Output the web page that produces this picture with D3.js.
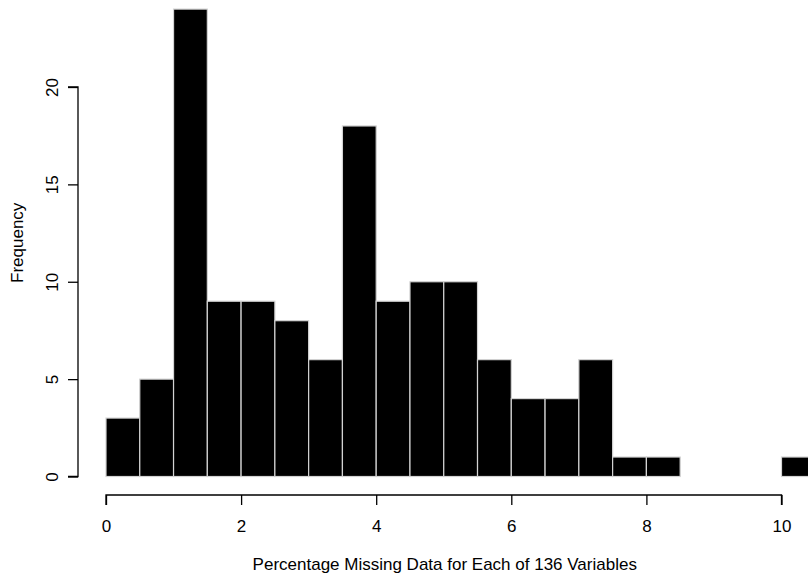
<!DOCTYPE html>
<html><head><meta charset="utf-8">
<script src="https://cdn.jsdelivr.net/npm/d3@7"></script>
<style>body{margin:0;background:#fff}svg{display:block}text{font-family:"Liberation Sans",Arial,sans-serif;fill:#000}</style>
</head><body>
<svg id="c" width="808" height="575"></svg>
<script>
const binStarts = [0,0.5,1,1.5,2,2.5,3,3.5,4,4.5,5,5.5,6,6.5,7,7.5,8,8.5,9,9.5,10];
const counts    = [3,5,24,9,9,8,6,18,9,10,10,6,4,4,6,1,1,0,0,0,1];
const binWidth = 0.5;
const xTicks = [0,2,4,6,8,10];
const yTicks = [0,5,10,15,20];
const xTitle = "Percentage Missing Data for Each of 136 Variables";
const yTitle = "Frequency";

const svg = d3.select("#c");
const x = d3.scaleLinear().domain([0,10]).range([106,781.5]);
const y = d3.scaleLinear().domain([0,20]).range([476.5,87]);

svg.append("g").selectAll("rect").data(binStarts).join("rect")
  .attr("x", d=>x(d)).attr("width", d=>x(d+binWidth)-x(d))
  .attr("y", (d,i)=>y(counts[i])).attr("height",(d,i)=>y(0)-y(counts[i]))
  .attr("fill","#000").attr("stroke","#d3d3d3").attr("stroke-width",1.2);

const fs = "17px";
const xa = svg.append("g").attr("transform","translate(0,495)")
  .call(d3.axisBottom(x).tickValues(xTicks).tickSize(10).tickPadding(15).tickFormat(d3.format("d")));
const ya = svg.append("g").attr("transform","translate(78,0)")
  .call(d3.axisLeft(y).tickValues(yTicks).tickSize(10).tickFormat(d3.format("d")));
[xa,ya].forEach(a=>{a.select(".domain").attr("stroke","#000").attr("stroke-width",1.3);a.selectAll(".tick line").attr("stroke","#000").attr("stroke-width",1.3);a.selectAll("text").style("font-size",fs).attr("font-family","Liberation Sans, Arial, sans-serif");});
xa.select(".domain").attr("d",`M${x(0)},10V0H${x(10)}V10`);
ya.select(".domain").attr("d",`M-10,${y(0)}H0V${y(20)}H-10`);
ya.selectAll(".tick text").attr("transform","rotate(-90)").attr("x",0).attr("y",-20).attr("dy","0").attr("text-anchor","middle");

svg.append("text").attr("x",x(5)+1).attr("y",570).attr("text-anchor","middle").style("font-size",fs).text(xTitle);
svg.append("text").attr("transform",`translate(23,${y(12)}) rotate(-90)`).attr("text-anchor","middle").style("font-size",fs).text(yTitle);
</script>
</body></html>
